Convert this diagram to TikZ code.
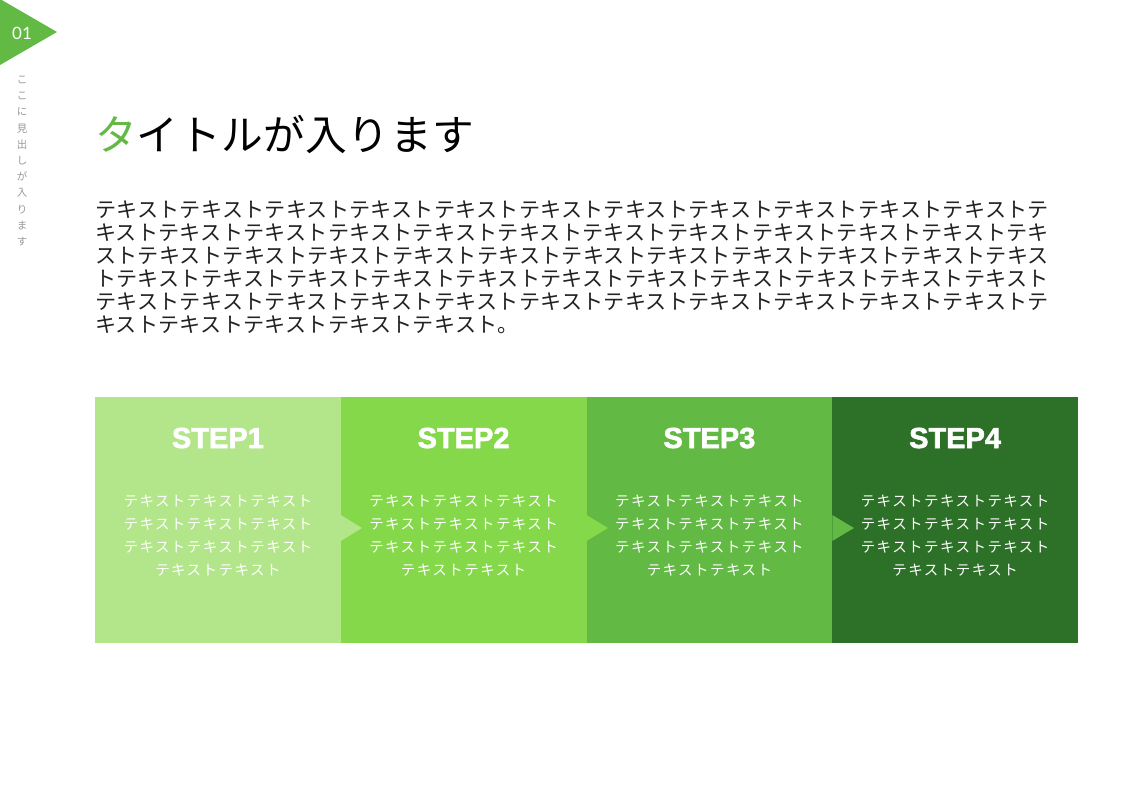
\documentclass[tikz,border=0pt]{standalone}
\usepackage{fontspec}
\newfontfamily\jp{Noto Sans CJK JP}
\newfontfamily\jpbody[LetterSpace=1.2]{Noto Sans CJK JP}
\newfontfamily\jptitle[LetterSpace=1.2]{Noto Sans CJK JP}
\newfontfamily\jpsp[LetterSpace=10]{Noto Sans CJK JP}
\newfontfamily\stepfont[FakeBold=2]{Liberation Sans Bold}
\newfontfamily\numfont{Lato}
\definecolor{cstepa}{HTML}{B3E68A}
\definecolor{cstepb}{HTML}{84D84A}
\definecolor{cstepc}{HTML}{62B943}
\definecolor{cstepd}{HTML}{2D7027}
\definecolor{caccent}{HTML}{62B943}
\definecolor{cbody}{HTML}{222222}
\definecolor{cside}{HTML}{9A9A9A}
\newcommand\tkx{テキスト}
\newcommand\jst{\rule[-0.12em]{0pt}{1em}}
\tikzset{
  stepbox/.style={anchor=north west, inner sep=0pt, minimum width=245.75pt, minimum height=246pt, draw=none},
  steptitle/.style={anchor=base, text=white, inner sep=0pt, font=\stepfont\fontsize{29pt}{30pt}\selectfont},
  steptext/.style={anchor=north, text=white, inner sep=0pt, align=center, font=\jpsp\fontsize{14.5pt}{23pt}\selectfont},
}
\begin{document}
\begin{tikzpicture}[x=1pt,y=-1pt]
\useasboundingbox (0,0) rectangle (1123,794);
\fill[white] (0,0) rectangle (1123,794);
% corner marker
\fill[caccent] (0,-1) -- (57,32) -- (0,65) -- cycle;
\node[text=white, inner sep=0pt, font=\numfont\fontsize{17pt}{18pt}\selectfont] (num) at (22,33) {01};
\node[anchor=north, inner sep=0pt, align=center, text=cside, font=\jp\fontsize{10.5pt}{16.2pt}\selectfont] (side) at (22,74)
  {\jst こ\\\jst こ\\\jst に\\\jst 見\\\jst 出\\\jst し\\\jst が\\\jst 入\\\jst り\\\jst ま\\\jst す};
% title
\node[anchor=base west, inner sep=0pt, font=\jptitle\fontsize{41.7pt}{44pt}\selectfont, text=black] (title) at (95,151)
  {\textcolor{caccent}{タ}イトルが入ります};
% body
\node[anchor=north west, inner sep=0pt, align=left, text=cbody, font=\jpbody\fontsize{21.1pt}{23pt}\selectfont] (body) at (95,198.4)
  {\jst\tkx\tkx\tkx\tkx\tkx\tkx\tkx\tkx\tkx\tkx\tkx テ\\
   \jst キスト\tkx\tkx\tkx\tkx\tkx\tkx\tkx\tkx\tkx\tkx テキ\\
   \jst スト\tkx\tkx\tkx\tkx\tkx\tkx\tkx\tkx\tkx\tkx テキス\\
   \jst ト\tkx\tkx\tkx\tkx\tkx\tkx\tkx\tkx\tkx\tkx\tkx\\
   \jst\tkx\tkx\tkx\tkx\tkx\tkx\tkx\tkx\tkx\tkx\tkx テ\\
   \jst キスト\tkx\tkx\tkx\tkx 。};
% step boxes
\node[stepbox, fill=cstepa] (b1) at (95,397) {};
\node[stepbox, fill=cstepb] (b2) at (340.75,397) {};
\node[stepbox, fill=cstepc] (b3) at (586.5,397) {};
\node[stepbox, fill=cstepd] (b4) at (832.25,397) {};
% chevrons
\fill[cstepa] (340.75,515) -- (362,528) -- (340.75,541) -- cycle;
\fill[cstepb] (586.5,515) -- (608,528) -- (586.5,541) -- cycle;
\fill[cstepc] (832.25,515) -- (854,528) -- (832.25,541) -- cycle;
% titles
\foreach \i/\cx in {1/217.9,2/463.6,3/709.4,4/955.1}{
  \node[steptitle] (t\i) at (\cx,448) {STEP\i};
  \node[steptext] (d\i) at (\cx,493.7)
   {\jst\tkx\tkx\tkx\\\jst\tkx\tkx\tkx\\\jst\tkx\tkx\tkx\\\jst\tkx\tkx};
}
\end{tikzpicture}
\end{document}
